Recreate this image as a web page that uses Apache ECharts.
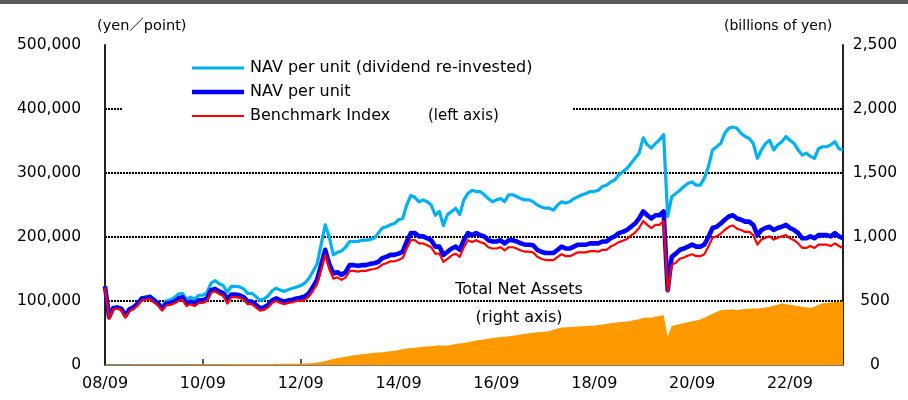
<!DOCTYPE html>
<html>
<head>
<meta charset="utf-8">
<script src="https://cdn.jsdelivr.net/npm/echarts@6/dist/echarts.min.js"></script>
<style>
  html, body { margin: 0; padding: 0; background: #fff; }
  #chart { width: 908px; height: 400px; }
</style>
</head>
<body>
<div id="chart"></div>
<script>
// Monthly series, 2008/09 .. 2023/10 (182 months)
const startYear = 2008, startMonth = 9, monthCount = 182;

// Axis labels shown every two years
const tickLabels = ['08/09', '10/09', '12/09', '14/09', '16/09', '18/09', '20/09', '22/09'];

// Series names, in legend order
const seriesNames = ['NAV per unit (dividend re-invested)', 'NAV per unit', 'Benchmark Index'];

// NAV per unit (dividend re-invested), thousands of yen
const navReinvested = [
  123, 75, 89, 90, 88, 78, 88, 91, 97, 105, 106, 108,
  103, 98, 91, 100, 102, 105, 111, 112, 103, 106, 103, 109,
  109, 113, 128, 132, 127, 124, 114, 123, 123, 122, 119, 112,
  112, 107, 101, 103, 108, 116, 120, 117, 115, 118, 120, 122,
  124, 128, 135, 146, 158, 188, 219, 200, 172, 176, 178, 184,
  193, 193, 193, 195, 195, 196, 198, 206, 214, 216, 219, 221,
  227, 229, 250, 265, 262, 255, 258, 255, 250, 234, 240, 218,
  235, 240, 245, 235, 258, 268, 273, 271, 271, 266, 260, 255,
  258, 260, 255, 266, 266, 263, 260, 258, 258, 255, 250, 247,
  245, 245, 242, 250, 255, 253, 255, 260, 263, 266, 268, 271,
  271, 273, 279, 281, 286, 289, 297, 302, 307, 315, 323, 331,
  355, 344, 339, 346, 352, 360, 232, 263, 268, 273, 279, 284,
  286, 281, 281, 292, 310, 336, 341, 346, 362, 370, 372, 370,
  362, 357, 354, 346, 323, 336, 346, 351, 336, 344, 349, 357,
  351, 346, 336, 328, 331, 326, 323, 338, 341, 341, 344, 349,
  338, 336
];

// NAV per unit, thousands of yen
const navPerUnit = [
  123, 75, 89, 90, 88, 77, 87, 90, 96, 104, 105, 106,
  101, 96, 88, 96, 97, 99, 104, 106, 96, 99, 96, 101,
  101, 104, 117, 119, 115, 112, 103, 110, 110, 109, 106, 99,
  99, 94, 89, 90, 94, 101, 104, 101, 99, 101, 102, 104,
  105, 107, 112, 122, 133, 156, 180, 158, 143, 145, 141, 145,
  156, 156, 155, 156, 156, 158, 159, 161, 167, 169, 172, 172,
  174, 177, 193, 206, 206, 201, 201, 198, 195, 185, 185, 172,
  177, 182, 185, 180, 195, 206, 203, 206, 203, 201, 195, 193,
  193, 195, 190, 195, 195, 193, 190, 188, 188, 187, 180, 177,
  175, 175, 175, 180, 185, 182, 182, 185, 188, 188, 188, 190,
  190, 190, 193, 193, 198, 201, 206, 208, 211, 216, 221, 229,
  240, 234, 229, 234, 234, 240, 117, 169, 174, 180, 182, 185,
  188, 185, 185, 188, 200, 214, 216, 221, 227, 232, 234, 229,
  227, 224, 224, 219, 203, 211, 214, 216, 211, 214, 216, 219,
  214, 211, 206, 198, 198, 201, 198, 203, 203, 203, 201, 206,
  201, 198
];

// Benchmark index, thousands of points
const benchmark = [
  121, 72, 87, 88, 86, 74, 84, 87, 93, 101, 102, 103,
  98, 93, 85, 93, 94, 96, 100, 102, 92, 95, 92, 97,
  97, 100, 113, 115, 111, 108, 96, 106, 106, 105, 102, 95,
  95, 90, 85, 86, 90, 97, 100, 97, 95, 97, 98, 100,
  100, 102, 107, 116, 126, 148, 172, 150, 135, 137, 133, 137,
  147, 147, 146, 147, 147, 149, 150, 152, 157, 159, 162, 162,
  164, 167, 182, 195, 195, 190, 190, 187, 184, 174, 174, 161,
  166, 171, 174, 169, 184, 195, 192, 195, 192, 190, 184, 182,
  182, 184, 179, 184, 184, 182, 179, 177, 177, 176, 169, 166,
  164, 164, 164, 169, 173, 170, 170, 173, 176, 176, 176, 178,
  178, 177, 180, 180, 185, 188, 192, 194, 197, 202, 207, 214,
  225, 219, 214, 219, 219, 225, 115, 156, 160, 166, 168, 171,
  173, 170, 170, 173, 185, 199, 201, 205, 211, 216, 218, 213,
  211, 208, 208, 203, 188, 196, 199, 201, 196, 199, 201, 203,
  198, 195, 190, 183, 183, 186, 183, 188, 188, 188, 186, 190,
  186, 183
];

// Total net assets, billions of yen
const totalNetAssets = [
  2, 2, 2, 2, 2, 2, 2, 3, 3, 3, 3, 3,
  3, 3, 3, 3, 4, 4, 4, 4, 4, 4, 5, 5,
  5, 5, 6, 6, 6, 6, 6, 7, 7, 7, 7, 7,
  7, 7, 7, 8, 8, 8, 9, 9, 9, 10, 10, 10,
  11, 12, 14, 16, 19, 24, 32, 40, 46, 52, 58, 64,
  70, 76, 80, 84, 88, 92, 95, 97, 100, 104, 108, 112,
  118, 124, 128, 132, 135, 138, 142, 144, 146, 150, 154, 150,
  152, 158, 164, 168, 172, 178, 186, 192, 196, 202, 206, 210,
  214, 218, 220, 224, 228, 232, 238, 244, 248, 252, 255, 258,
  260, 266, 275, 285, 292, 294, 296, 298, 300, 302, 305, 306,
  308, 312, 316, 320, 326, 330, 334, 337, 340, 345, 352, 358,
  368, 372, 370, 378, 383, 391, 221, 305, 312, 320, 326, 336,
  342, 348, 356, 370, 385, 400, 415, 428, 432, 432, 435, 430,
  434, 438, 440, 443, 440, 446, 450, 456, 462, 470, 482, 475,
  470, 465, 460, 456, 452, 445, 456, 470, 482, 484, 488, 492,
  495, 496
];

// Month labels "YY/MM"
const months = [];
for (let i = 0; i < monthCount; i++) {
  const t = startMonth - 1 + i;
  const y = startYear + Math.floor(t / 12);
  const m = (t % 12) + 1;
  months.push(String(y % 100).padStart(2, '0') + '/' + String(m).padStart(2, '0'));
}

const toYen = arr => arr.map(v => v * 1000);
const FONT = '"DejaVu Sans", "Noto Sans CJK JP", sans-serif';
const showTick = (idx, val) => tickLabels.indexOf(val) !== -1;

const colors = ['#00B0F0', '#0000FF', '#FF0000'];
const widths = [3.2, 4.6, 2.2];

// Legend block: white panel, line swatches and labels
const legendGraphics = [
  { type: 'rect', left: 122, top: 55, z: 90, shape: { width: 450, height: 72 }, style: { fill: '#ffffff' } }
];
const legendRows = [68, 92, 116];
seriesNames.forEach((name, i) => {
  legendGraphics.push({
    type: 'line', z: 95,
    shape: { x1: 192, y1: legendRows[i], x2: 244, y2: legendRows[i] },
    style: { stroke: colors[i], lineWidth: widths[i] }
  });
  legendGraphics.push({
    type: 'text', x: 250, y: legendRows[i], z: 95,
    style: { text: name, font: '16px ' + FONT, fill: '#000', verticalAlign: 'middle' }
  });
});

const chart = echarts.init(document.getElementById('chart'), null, { renderer: 'canvas' });

chart.setOption({
  animation: false,
  backgroundColor: '#ffffff',
  textStyle: { fontFamily: FONT, color: '#000' },
  grid: { left: 105, right: 65, top: 45, bottom: 35 },
  xAxis: [
    {
      type: 'category',
      data: months,
      boundaryGap: false,
      axisLine: { lineStyle: { color: '#222', width: 2 } },
      axisTick: { inside: true, length: 6, interval: showTick, lineStyle: { color: '#222', width: 1.5 } },
      axisLabel: {
        interval: showTick,
        margin: 11,
        fontSize: 16,
        fontFamily: FONT,
        color: '#000'
      },
      splitLine: { show: false }
    },
    {
      type: 'category',
      data: months,
      position: 'top',
      boundaryGap: false,
      axisLine: { lineStyle: { color: '#9a9a9a', width: 1.5, type: [3, 1] } },
      axisTick: { show: false },
      axisLabel: { show: false }
    }
  ],
  yAxis: [
    {
      type: 'value',
      min: 0,
      max: 500000,
      interval: 100000,
      axisLine: { show: true, lineStyle: { color: '#222', width: 2 } },
      axisTick: { show: false },
      axisLabel: {
        margin: 24,
        fontSize: 15.5,
        fontFamily: FONT,
        color: '#000',
        formatter: v => v.toLocaleString('en-US')
      },
      splitLine: {
        show: true,
        showMinLine: false,
        showMaxLine: false,
        lineStyle: { color: '#000', width: 2, type: [2, 1] }
      }
    },
    {
      type: 'value',
      min: 0,
      max: 2500,
      interval: 500,
      position: 'right',
      axisLine: { show: true, lineStyle: { color: '#222', width: 2 } },
      axisTick: { show: false },
      axisLabel: {
        margin: 32,
        align: 'center',
        fontSize: 15.5,
        fontFamily: FONT,
        color: '#000',
        formatter: v => v.toLocaleString('en-US')
      },
      splitLine: { show: false }
    }
  ],
  series: [
    {
      name: 'Total Net Assets',
      type: 'line',
      yAxisIndex: 1,
      data: totalNetAssets,
      symbol: 'none',
      lineStyle: { width: 0 },
      itemStyle: { color: '#FF9900' },
      areaStyle: { color: '#FF9900', opacity: 1 },
      z: 1
    },
    {
      name: seriesNames[0],
      type: 'line',
      data: toYen(navReinvested),
      symbol: 'none',
      lineStyle: { color: colors[0], width: widths[0], join: 'round' },
      z: 2
    },
    {
      name: seriesNames[1],
      type: 'line',
      data: toYen(navPerUnit),
      symbol: 'none',
      lineStyle: { color: colors[1], width: widths[1], join: 'round' },
      z: 3
    },
    {
      name: seriesNames[2],
      type: 'line',
      data: toYen(benchmark),
      symbol: 'none',
      lineStyle: { color: colors[2], width: widths[2], join: 'round' },
      z: 4
    }
  ],
  graphic: legendGraphics.concat([
    { type: 'rect', left: 0, top: 0, z: 100, shape: { width: 908, height: 4 }, style: { fill: '#595959' } },
    { type: 'text', left: 97, top: 19, z: 100,
      style: { text: '(yen／point)', font: '14.5px ' + FONT, fill: '#000' } },
    { type: 'text', left: 724, top: 19, z: 100,
      style: { text: '(billions of yen)', font: '14px ' + FONT, fill: '#000' } },
    { type: 'text', x: 428, y: 116, z: 100,
      style: { text: '(left axis)', font: '15px ' + FONT, fill: '#000', verticalAlign: 'middle' } },
    { type: 'text', x: 519, y: 290, z: 100,
      style: { text: 'Total Net Assets', font: '16px ' + FONT, fill: '#000', align: 'center', verticalAlign: 'middle' } },
    { type: 'text', x: 519, y: 318, z: 100,
      style: { text: '(right axis)', font: '16px ' + FONT, fill: '#000', align: 'center', verticalAlign: 'middle' } }
  ])
});
</script>
</body>
</html>
